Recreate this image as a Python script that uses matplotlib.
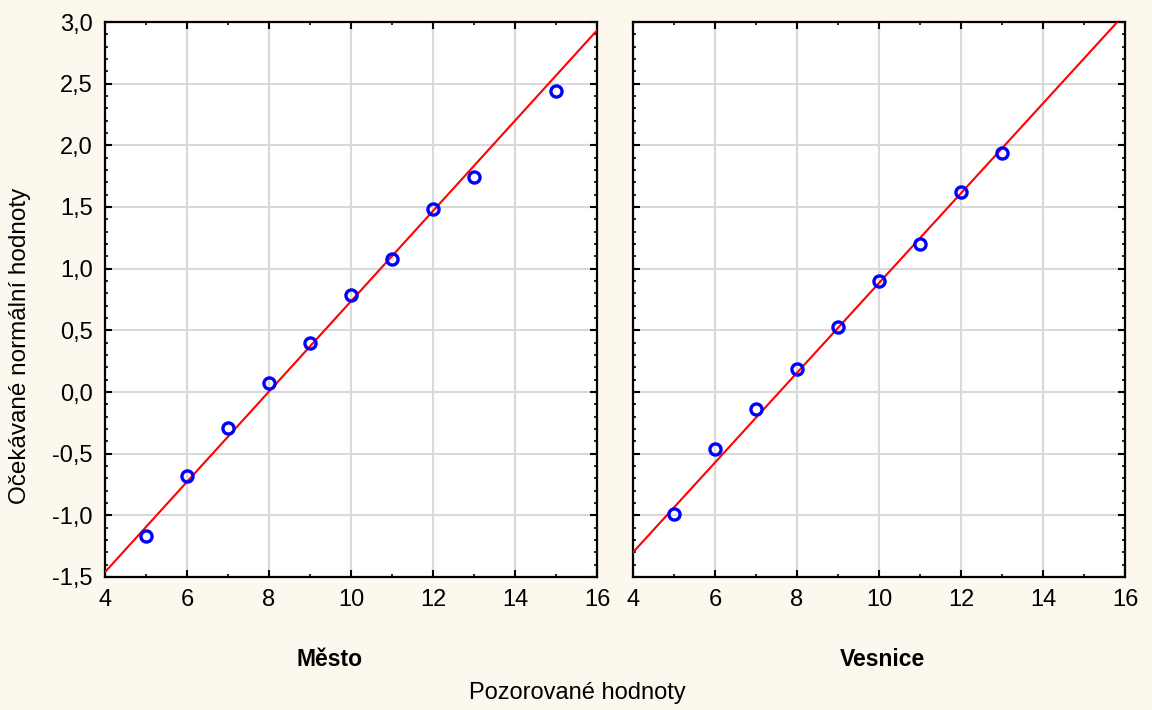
import matplotlib.pyplot as plt
from matplotlib.ticker import MultipleLocator, FuncFormatter

plt.rcParams['font.family'] = ['Liberation Sans', 'DejaVu Sans']

# observed values and expected normal values
mesto_x = [5, 6, 7, 8, 9, 10, 11, 12, 13, 15]
mesto_y = [-1.17, -0.68, -0.29, 0.07, 0.40, 0.79, 1.08, 1.48, 1.74, 2.44]
vesnice_x = [5, 6, 7, 8, 9, 10, 11, 12, 13]
vesnice_y = [-0.99, -0.46, -0.14, 0.19, 0.53, 0.90, 1.20, 1.62, 1.94]

# fitted lines: (intercept at x=4, slope)
mesto_fit = (-1.46, 0.366)
vesnice_fit = (-1.30, 0.364)

panels = ['Město', 'Vesnice']

bg = '#fdf8ee'
fig = plt.figure(figsize=(11.52, 7.10), dpi=100, facecolor=bg)
ax1 = fig.add_axes([105 / 1152, 1 - 577 / 710, 492 / 1152, 555 / 710])
ax2 = fig.add_axes([633 / 1152, 1 - 577 / 710, 492 / 1152, 555 / 710])

comma = FuncFormatter(lambda v, p: f'{v:.1f}'.replace('.', ','))

data = [(ax1, mesto_x, mesto_y, mesto_fit), (ax2, vesnice_x, vesnice_y, vesnice_fit)]
for ax, xs, ys, (b, k) in data:
    ax.set_xlim(4, 16)
    ax.set_ylim(-1.5, 3.0)
    ax.xaxis.set_major_locator(MultipleLocator(2))
    ax.xaxis.set_minor_locator(MultipleLocator(1))
    ax.yaxis.set_major_locator(MultipleLocator(0.5))
    ax.yaxis.set_minor_locator(MultipleLocator(0.1))
    ax.yaxis.set_major_formatter(comma)
    ax.grid(True, which='major', color='#d9d9d9', linewidth=1.5)
    ax.set_axisbelow(True)
    ax.tick_params(which='both', direction='in', top=True, right=True,
                   labelsize=17, colors='black')
    ax.tick_params(axis='x', which='major', pad=9)
    ax.tick_params(axis='y', which='major', pad=9)
    ax.tick_params(which='major', length=5, width=1.5)
    ax.tick_params(which='minor', length=2.5, width=1.2)
    for s in ax.spines.values():
        s.set_linewidth(1.6)
    ax.plot([4, 16], [b, b + k * 12], color='#ff0000', linewidth=1.5, zorder=3)
    ax.plot(xs, ys, 'o', markerfacecolor='none', markeredgecolor='#0000ff',
            markersize=8, markeredgewidth=2.4, zorder=4)

ax2.tick_params(labelleft=False)

fig.text(329 / 1152, 1 - 659 / 710, panels[0], ha='center', va='center',
         fontsize=16.5, fontweight='bold')
fig.text(882 / 1152, 1 - 659 / 710, panels[1], ha='center', va='center',
         fontsize=16.5, fontweight='bold')
fig.text(577 / 1152, 1 - 693 / 710, 'Pozorované hodnoty', ha='center', va='center',
         fontsize=17)
fig.text(20 / 1152, 1 - 346 / 710, 'Očekávané normální hodnoty', ha='center',
         va='center', rotation=90, fontsize=17.5)

fig.savefig('out.png', dpi=100, facecolor=bg)
